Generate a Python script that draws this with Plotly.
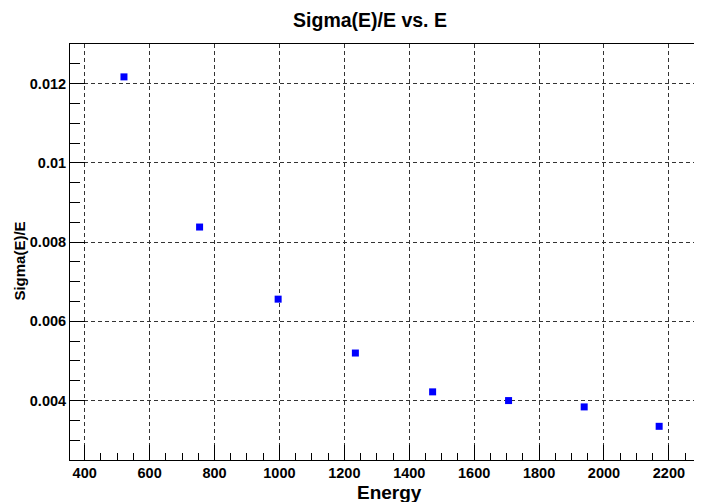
import plotly.graph_objects as go

energy = [521, 754, 996, 1234, 1472, 1706, 1939, 2170]
sigma_over_e = [0.01217, 0.00838, 0.00656, 0.00520, 0.00422, 0.00400, 0.00384, 0.00335]

x_ticks = [400, 600, 800, 1000, 1200, 1400, 1600, 1800, 2000, 2200]
y_ticks = [0.004, 0.006, 0.008, 0.01, 0.012]
y_tick_labels = ["0.004", "0.006", "0.008", "0.01", "0.012"]

FONT = "Liberation Sans"
GRID = "#333333"

fig = go.Figure()
fig.add_trace(go.Scatter(
    x=energy, y=sigma_over_e, mode="markers",
    marker=dict(symbol="square", size=7, color="#0000ff", line=dict(width=0)),
    showlegend=False,
))

fig.update_layout(
    width=702, height=502,
    margin=dict(l=62, r=8, t=36, b=50, autoexpand=False),
    paper_bgcolor="white", plot_bgcolor="white",
    font=dict(family=FONT, color="black"),
    title=dict(text="Sigma(E)/E vs. E", x=362 / 702, xanchor="center", y=1 - 12 / 502, yanchor="middle",
               font=dict(family=FONT, size=19.5, weight="bold", color="black")),
    xaxis=dict(
        range=[354.7, 2302], showline=True, linecolor="black", linewidth=1, mirror=True,
        automargin=False,
        tickvals=x_ticks, ticktext=[str(v) for v in x_ticks],
        ticks="inside", ticklen=15, tickcolor="black", tickwidth=1,
        minor=dict(dtick=50, tick0=0, ticks="inside", ticklen=7, tickcolor="black", showgrid=False),
        showgrid=True, gridcolor=GRID, gridwidth=1, griddash="4px,3px",
        tickfont=dict(family=FONT, size=14.5, weight="bold", color="black"),
        zeroline=False,
    ),
    yaxis=dict(
        range=[0.0025, 0.0130], showline=True, linecolor="black", linewidth=1,
        automargin=False,
        tickvals=y_ticks, ticktext=y_tick_labels,
        ticks="inside", ticklen=15, tickcolor="black", tickwidth=1,
        minor=dict(dtick=0.0005, tick0=0, ticks="inside", ticklen=10, tickcolor="black", showgrid=False),
        showgrid=True, gridcolor=GRID, gridwidth=1, griddash="4px,3px",
        tickfont=dict(family=FONT, size=14.5, weight="bold", color="black"),
        zeroline=False,
    ),
    annotations=[
        dict(text="Energy", xref="paper", yref="paper", x=0.506, y=-0.077,
             xanchor="center", yanchor="middle", showarrow=False,
             font=dict(family=FONT, size=19, weight="bold", color="black")),
        dict(text="Sigma(E)/E", xref="paper", yref="paper", x=-0.080, y=0.478,
             xanchor="center", yanchor="middle", textangle=-90, showarrow=False,
             font=dict(family=FONT, size=15, weight="bold", color="black")),
    ],
)

fig.write_html("out.html")
